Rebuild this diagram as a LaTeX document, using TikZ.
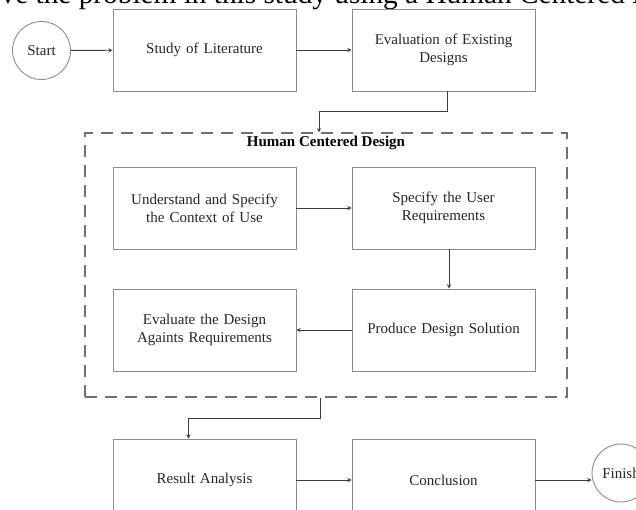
\documentclass[tikz,border=0pt]{standalone}
\usepackage{fontspec}
\setmainfont{Liberation Serif}
\usepackage{tikz}
\usetikzlibrary{arrows}

\definecolor{boxgray}{HTML}{8C8C8C}
\definecolor{flowgray}{HTML}{3C3C3C}
\definecolor{dashgray}{HTML}{707070}

\begin{document}
\begin{tikzpicture}
	[
		x=1pt, y=-1pt,
		box/.style={draw=boxgray, line width=0.9pt, minimum width=183pt, minimum height=82pt,
			text width=170pt, align=center, text=black!85, font=\fontsize{15}{18}\selectfont},
		term/.style={circle, draw=boxgray, line width=0.9pt, minimum size=58pt, inner sep=0pt,
			text=black!85, font=\fontsize{15}{18}\selectfont},
		flow/.style={-stealth, flowgray, line width=0.9pt},
		group/.style={draw=dashgray, line width=1.2pt, dash pattern=on 12pt off 8pt}
	]
	
	% Fix the frame.
	\clip (0,0) rectangle (636,510);
	
	% Cut-off line of the page above.
	\node[anchor=base west, inner sep=0pt, font=\fontsize{29.3}{33}\selectfont] (caption) at (0.5,4)
		{ve the problem in this study using a Human Centered Design};
	
	% First row.
	\node[term] (start) at (41.5,50.5) {Start};
	\node[box] (lit) at (204.5,50) {Study of Literature};
	\node[box] (eval) at (443.5,50) {Evaluation of Existing\\Designs};
	
	% Human centered design group.
	\node[group, minimum width=482pt, minimum height=264pt, inner sep=0pt] (hcd) at (326,265) {};
	\node[anchor=north, inner sep=3pt, font=\fontsize{15}{18}\selectfont\bfseries] (hcdtitle)
		at (hcd.north) {Human Centered Design};
	\node[box] (ctx) at (204.5,208) {Understand and Specify\\the Context of Use};
	\node[box] (req) at (443.5,208) {Specify the User\\Requirements};
	\node[box] (evd) at (204.5,330) {Evaluate the Design\\Againts Requirements};
	\node[box] (sol) at (443.5,330) {Produce Design Solution};
	
	% Last row.
	\node[box] (res) at (204.5,480) {Result Analysis};
	\node[box] (conc) at (443.5,480) {Conclusion};
	\node[term] (finish) at (621,473) {Finish};
	
	% Turning points.
	\coordinate (in1) at (319,111);
	\coordinate (out1) at (320,418);
	
	% Connectors.
	\draw[flow] (start) -- (lit);
	\draw[flow] (lit) -- (eval);
	\draw[flow] ([xshift=3.5pt]eval.south) |- (in1) -- (in1 |- hcd.north);
	\draw[flow] (ctx) -- (req);
	\draw[flow] ([xshift=5.5pt]req.south) -- ([xshift=5.5pt]sol.north);
	\draw[flow] (sol) -- (evd);
	\draw[flow] (out1 |- hcd.south) -- (out1) -| ([xshift=-16pt]res.north);
	\draw[flow] (res) -- (conc);
	\draw[flow] (conc.east) -- (conc.east -| finish.west);
\end{tikzpicture}
\end{document}
